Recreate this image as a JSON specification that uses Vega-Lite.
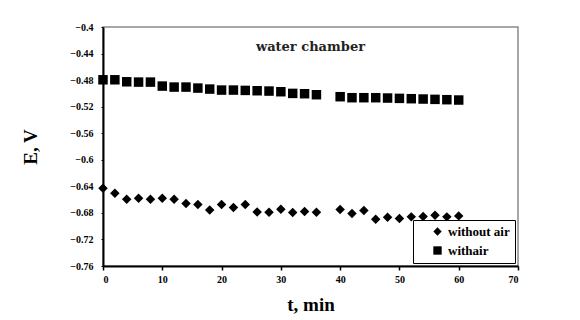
{
  "$schema": "https://vega.github.io/schema/vega-lite/v6.json",
  "width": 415,
  "height": 239,
  "autosize": {"type": "none"},
  "padding": {"left": 103, "top": 27, "right": 62, "bottom": 54},
  "background": "white",
  "config": {
    "view": {"stroke": "#8a8a8a", "strokeWidth": 1.5},
    "font": "Liberation Serif",
    "legend": {"labelFont": "Liberation Serif", "labelFontWeight": "bold"}
  },
  "title": {
    "text": "water chamber",
    "font": "DejaVu Serif",
    "fontWeight": "bold",
    "fontSize": 13,
    "offset": -32,
    "anchor": "middle",
    "color": "#222222"
  },
  "data": {
    "values": [
      {"t": 0, "E": -0.4795, "series": "withair"},
      {"t": 2, "E": -0.4795, "series": "withair"},
      {"t": 4, "E": -0.4825, "series": "withair"},
      {"t": 6, "E": -0.483, "series": "withair"},
      {"t": 8, "E": -0.483, "series": "withair"},
      {"t": 10, "E": -0.489, "series": "withair"},
      {"t": 12, "E": -0.4905, "series": "withair"},
      {"t": 14, "E": -0.4905, "series": "withair"},
      {"t": 16, "E": -0.492, "series": "withair"},
      {"t": 18, "E": -0.4935, "series": "withair"},
      {"t": 20, "E": -0.495, "series": "withair"},
      {"t": 22, "E": -0.495, "series": "withair"},
      {"t": 24, "E": -0.4955, "series": "withair"},
      {"t": 26, "E": -0.496, "series": "withair"},
      {"t": 28, "E": -0.4965, "series": "withair"},
      {"t": 30, "E": -0.4975, "series": "withair"},
      {"t": 32, "E": -0.5, "series": "withair"},
      {"t": 34, "E": -0.5005, "series": "withair"},
      {"t": 36, "E": -0.502, "series": "withair"},
      {"t": 40, "E": -0.505, "series": "withair"},
      {"t": 42, "E": -0.5065, "series": "withair"},
      {"t": 44, "E": -0.5065, "series": "withair"},
      {"t": 46, "E": -0.5065, "series": "withair"},
      {"t": 48, "E": -0.507, "series": "withair"},
      {"t": 50, "E": -0.5075, "series": "withair"},
      {"t": 52, "E": -0.508, "series": "withair"},
      {"t": 54, "E": -0.5085, "series": "withair"},
      {"t": 56, "E": -0.509, "series": "withair"},
      {"t": 58, "E": -0.5095, "series": "withair"},
      {"t": 60, "E": -0.51, "series": "withair"},
      {"t": 0, "E": -0.643, "series": "without air"},
      {"t": 2, "E": -0.6505, "series": "without air"},
      {"t": 4, "E": -0.6595, "series": "without air"},
      {"t": 6, "E": -0.658, "series": "without air"},
      {"t": 8, "E": -0.6595, "series": "without air"},
      {"t": 10, "E": -0.658, "series": "without air"},
      {"t": 12, "E": -0.6595, "series": "without air"},
      {"t": 14, "E": -0.666, "series": "without air"},
      {"t": 16, "E": -0.6675, "series": "without air"},
      {"t": 18, "E": -0.6755, "series": "without air"},
      {"t": 20, "E": -0.6675, "series": "without air"},
      {"t": 22, "E": -0.672, "series": "without air"},
      {"t": 24, "E": -0.6675, "series": "without air"},
      {"t": 26, "E": -0.6785, "series": "without air"},
      {"t": 28, "E": -0.679, "series": "without air"},
      {"t": 30, "E": -0.6745, "series": "without air"},
      {"t": 32, "E": -0.6795, "series": "without air"},
      {"t": 34, "E": -0.678, "series": "without air"},
      {"t": 36, "E": -0.679, "series": "without air"},
      {"t": 40, "E": -0.675, "series": "without air"},
      {"t": 42, "E": -0.681, "series": "without air"},
      {"t": 44, "E": -0.6765, "series": "without air"},
      {"t": 46, "E": -0.6895, "series": "without air"},
      {"t": 48, "E": -0.6865, "series": "without air"},
      {"t": 50, "E": -0.6885, "series": "without air"},
      {"t": 52, "E": -0.686, "series": "without air"},
      {"t": 54, "E": -0.6855, "series": "without air"},
      {"t": 56, "E": -0.6835, "series": "without air"},
      {"t": 58, "E": -0.686, "series": "without air"},
      {"t": 60, "E": -0.6845, "series": "without air"}
    ]
  },
  "mark": {"type": "point", "filled": true, "opacity": 1, "size": 90, "clip": false},
  "encoding": {
    "x": {
      "field": "t",
      "type": "quantitative",
      "scale": {"domain": [0, 70], "nice": false, "zero": false},
      "axis": {
        "title": "t, min",
        "values": [0, 10, 20, 30, 40, 50, 60, 70],
        "grid": false,
        "domainColor": "black",
        "domainWidth": 2,
        "tickColor": "black",
        "tickWidth": 1.5,
        "tickSize": 4,
        "labelFont": "Liberation Serif",
        "labelFontWeight": "bold",
        "labelFontSize": 10,
        "labelColor": "black",
        "labelPadding": 4,
        "titleFont": "Liberation Serif",
        "titleFontWeight": "bold",
        "titleFontSize": 19,
        "titleColor": "black",
        "titlePadding": 11
      }
    },
    "y": {
      "field": "E",
      "type": "quantitative",
      "scale": {"domain": [-0.76, -0.4], "nice": false, "zero": false},
      "axis": {
        "title": "E, V",
        "values": [-0.76, -0.72, -0.68, -0.64, -0.6, -0.56, -0.52, -0.48, -0.44, -0.4],
        "format": ".2~f",
        "grid": false,
        "domainColor": "black",
        "domainWidth": 2,
        "tickColor": "black",
        "tickWidth": 1,
        "tickSize": 2,
        "labelFont": "Liberation Serif",
        "labelFontWeight": "bold",
        "labelFontSize": 10,
        "labelColor": "black",
        "labelPadding": 8,
        "titleFont": "Liberation Serif",
        "titleFontWeight": "bold",
        "titleFontSize": 19,
        "titleColor": "black",
        "titlePadding": 29
      }
    },
    "shape": {
      "field": "series",
      "type": "nominal",
      "scale": {"domain": ["without air", "withair"], "range": ["diamond", "square"]},
      "legend": {
        "title": null,
        "orient": "bottom-right",
        "offset": 3,
        "padding": 5,
        "strokeColor": "black",
        "fillColor": "white",
        "symbolFillColor": "black",
        "symbolStrokeColor": "black",
        "symbolSize": 70,
        "symbolOpacity": 1,
        "labelFont": "Liberation Serif",
        "labelFontWeight": "bold",
        "labelFontSize": 13,
        "labelColor": "black",
        "rowPadding": 4,
        "labelOffset": 4,
        "symbolOffset": 13
      }
    },
    "color": {"value": "black"}
  }
}
